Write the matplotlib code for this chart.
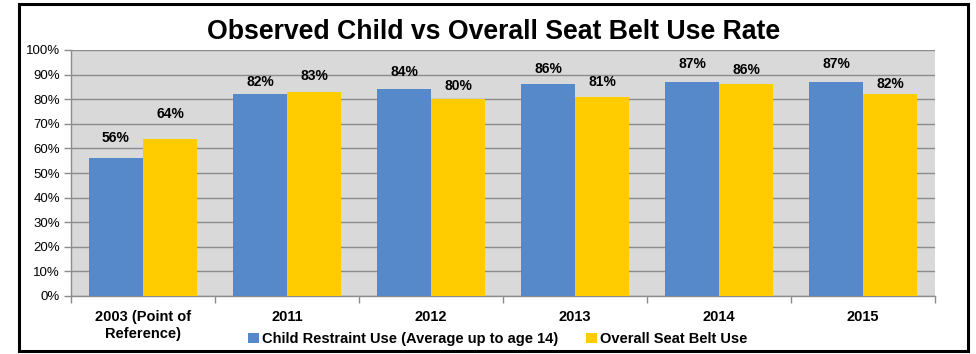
import matplotlib
matplotlib.use("Agg")
import matplotlib.pyplot as plt
import numpy as np
from matplotlib.patches import Rectangle

categories = ["2003 (Point of\nReference)", "2011", "2012", "2013", "2014", "2015"]
child = [56, 82, 84, 86, 87, 87]
overall = [64, 83, 80, 81, 86, 82]
series_names = ["Child Restraint Use (Average up to age 14)", "Overall Seat Belt Use"]
yticks = [0, 10, 20, 30, 40, 50, 60, 70, 80, 90, 100]

plt.rcParams['font.family'] = ['Liberation Sans', 'DejaVu Sans']

W, H = 976, 354
fig = plt.figure(figsize=(W/100, H/100), dpi=100)
fig.patch.set_facecolor('white')

# outer border
fig.patches.append(Rectangle((19/W, 1-351/H), (968-19)/W, (351-4)/H, transform=fig.transFigure,
                             fill=False, edgecolor='black', linewidth=2.2, zorder=10))

ax = fig.add_axes([71/W, 1-296/H, (935-71)/W, (296-50)/H])
ax.set_facecolor('#d9d9d9')

blue = '#5689CA'
yellow = '#FFCC00'
x = np.arange(len(categories))
bw = 0.375
b1 = ax.bar(x - bw/2, child, bw, color=blue, label=series_names[0], zorder=3)
b2 = ax.bar(x + bw/2, overall, bw, color=yellow, label=series_names[1], zorder=3)

# label offsets (pixels above bar top, to text center), styling only
off1 = [20, 12, 17, 15, 18, 18]
off2 = [25, 16, 13, 15, 14, 10]
for bars, vals, offs in ((b1, child, off1), (b2, overall, off2)):
    for rect, v, o in zip(bars, vals, offs):
        ax.annotate(f"{v}%", (rect.get_x()+rect.get_width()/2, v), xytext=(0, o*0.72),
                    textcoords='offset points', ha='center', va='center',
                    fontsize=10, fontweight='bold', zorder=5)

ax.set_xlim(-0.5, len(categories)-0.5)
ax.set_ylim(0, 100)
ax.set_yticks(yticks)
ax.set_yticklabels([f"{t}%" for t in yticks], fontsize=9.5)
ax.yaxis.grid(True, color='#8c8c8c', linewidth=1, zorder=1)
ax.set_axisbelow(True)
ax.tick_params(axis='y', length=5, color='#8c8c8c', width=1, pad=3)

ax.set_xticks(x)
ax.set_xticklabels(categories, fontsize=10.5, fontweight='bold', linespacing=1.3)
ax.set_xticks(np.arange(-0.5, len(categories)+0.5, 1), minor=True)
ax.tick_params(axis='x', which='major', length=0, pad=10)
ax.tick_params(axis='x', which='minor', length=5, color='#8c8c8c', width=1)

for s in ['top', 'right']:
    ax.spines[s].set_visible(False)
for s in ['left', 'bottom']:
    ax.spines[s].set_color('#8c8c8c')
    ax.spines[s].set_linewidth(1)

fig.text(494/W, 1-32/H, "Observed Child vs Overall Seat Belt Use Rate", ha='center', va='center',
         fontsize=19.2, fontweight='bold')

leg = fig.legend(handles=[b1, b2], labels=series_names, loc='center', bbox_to_anchor=(498/W, 1-339/H),
                 ncol=2, frameon=False, prop={'weight': 'bold', 'size': 10.5},
                 handlelength=0.7, handleheight=0.7, handletextpad=0.25, columnspacing=1.9)

fig.savefig("out.png", dpi=100, facecolor='white')
